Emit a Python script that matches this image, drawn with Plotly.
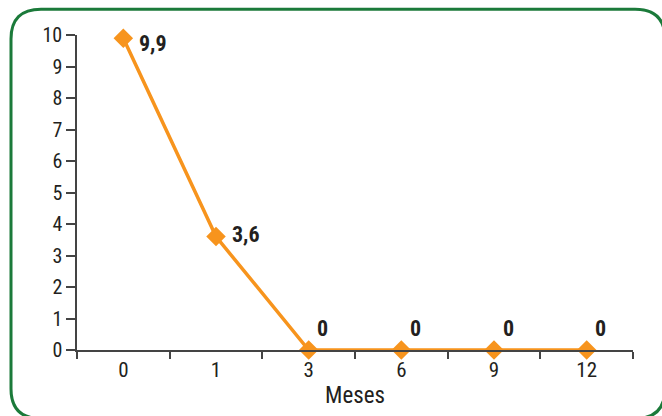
import plotly.graph_objects as go

# ---- data ----
categories = ["0", "1", "3", "6", "9", "12"]
values = [9.9, 3.6, 0, 0, 0, 0]
y_ticks = list(range(0, 11))
x_title = "Meses"
labels = [f"{v:g}".replace(".", ",") for v in values]

# ---- style ----
W, H = 662, 416
ML, MR, MT, MB = 77, 29, 35, 64
FONT = "Roboto Condensed, DejaVu Sans Condensed, sans-serif"
ORANGE = "#F7941D"
DARK = "#231F20"
GREEN = "#1B7A3A"

fig = go.Figure()
fig.add_trace(go.Scatter(
    x=categories, y=values, mode="lines+markers",
    line=dict(color=ORANGE, width=3.5),
    marker=dict(symbol="diamond", size=15, color=ORANGE),
    cliponaxis=False, hoverinfo="skip", showlegend=False,
))

# data labels (x given as category index)
for i, (v, t) in enumerate(zip(values, labels)):
    if v > 0:
        xs, ys = 30, (-5 if i == 0 else 2)
    else:
        xs, ys = 14, 22
    fig.add_annotation(x=i, y=v, xref="x", yref="y", text=f"<b>{t}</b>", showarrow=False,
                       xshift=xs, yshift=ys, xanchor="center", yanchor="middle",
                       font=dict(family=FONT, size=22, color=DARK))

# rounded green border (pixel -> paper)
def px(x):
    return (x - ML) / (W - ML - MR)

def py(y):
    return (H - MB - y) / (H - MT - MB)

x0, x1, y0, y1, r = 11, 665, 9, 421, 30
path = (
    f"M {px(x0 + r)},{py(y0)} L {px(x1 - r)},{py(y0)} "
    f"Q {px(x1)},{py(y0)} {px(x1)},{py(y0 + r)} "
    f"L {px(x1)},{py(y1 - r)} Q {px(x1)},{py(y1)} {px(x1 - r)},{py(y1)} "
    f"L {px(x0 + r)},{py(y1)} Q {px(x0)},{py(y1)} {px(x0)},{py(y1 - r)} "
    f"L {px(x0)},{py(y0 + r)} Q {px(x0)},{py(y0)} {px(x0 + r)},{py(y0)} Z"
)
fig.add_shape(type="path", path=path, xref="paper", yref="paper",
              line=dict(color=GREEN, width=3), layer="below")

fig.update_layout(
    width=W, height=H,
    margin=dict(l=ML, r=MR, t=MT, b=MB),
    paper_bgcolor="white", plot_bgcolor="white",
    font=dict(family=FONT, color=DARK),
    xaxis=dict(
        type="category", range=[-0.5, 5.5], tickson="boundaries",
        ticks="outside", ticklen=7, tickwidth=1.5, tickcolor="#444",
        showline=True, linecolor="#444", linewidth=1.5,
        showgrid=False, zeroline=False,
        tickfont=dict(size=21, family=FONT, color=DARK),
        title=dict(text=x_title, font=dict(size=23, family=FONT, color=DARK), standoff=6),
    ),
    yaxis=dict(
        range=[0, 10], tickvals=y_ticks, ticktext=[str(t) for t in y_ticks],
        ticks="outside", ticklen=9, tickwidth=1.5, tickcolor="#444",
        showline=True, linecolor="#444", linewidth=1.5,
        showgrid=False, zeroline=False,
        tickfont=dict(size=20, family=FONT, color=DARK),
    ),
)

fig.write_html("out.html", config={"displayModeBar": False},
               post_script="document.body.style.margin='0';")
